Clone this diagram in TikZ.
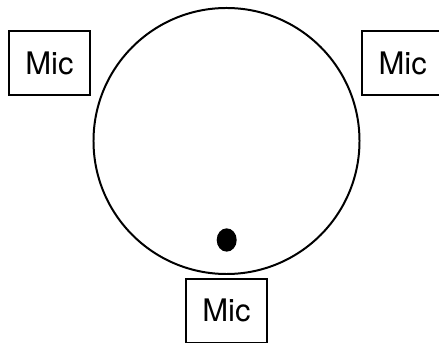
\documentclass[tikz,border=0pt]{standalone}
\usepackage{fontspec}
\setsansfont{TeX Gyre Heros}
\usetikzlibrary{positioning, shapes.geometric}

\begin{document}
\begin{tikzpicture}[
    x=0.03cm, y=-0.03cm,
    micbox/.style={rectangle, draw=black, line width=1.7pt, fill=white, minimum width=2.44cm, minimum height=1.93cm, inner sep=0pt, align=center, font=\sffamily\fontsize{26.5}{30}\selectfont},
    head/.style={circle, draw=black, line width=1.7pt, minimum size=7.98cm, inner sep=0pt},
    mouth/.style={ellipse, fill=black, minimum width=0.6cm, minimum height=0.7cm, inner sep=0pt}
]
\useasboundingbox (0,0) rectangle (439,343);
\node[head] (skull) at (226.5,141) {};
\node[mouth] (lips) at (226.7,240) {};
\node[micbox] (micleft) at (49.5,63) {Mic};
\node[micbox] (micright) at (402.7,63.2) {Mic};
\node[micbox, below=0.08cm of skull] (micbottom) {Mic};
\end{tikzpicture}
\end{document}
